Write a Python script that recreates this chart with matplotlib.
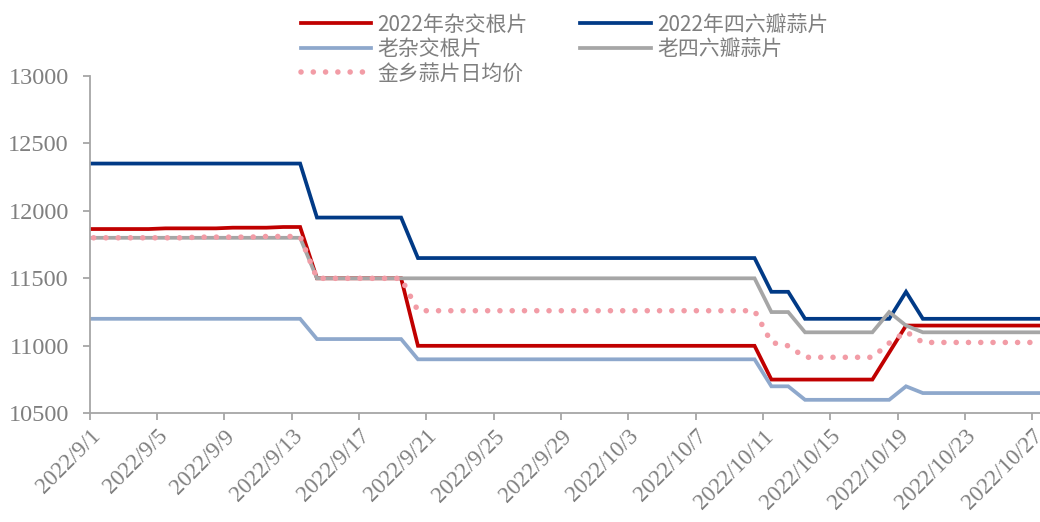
import matplotlib
matplotlib.use('Agg')
import matplotlib.pyplot as plt
import matplotlib.dates as mdates
import pandas as pd

# daily prices, 2022/8/31 .. 2022/10/28 (ends are clipped by the axis like the original)
dates = pd.date_range('2022-08-31', '2022-10-28', freq='D')

hybrid_2022 = [11865,
               11865, 11865, 11865, 11865, 11870, 11870, 11870, 11870, 11875, 11875, 11875, 11880, 11880,
               11500, 11500, 11500, 11500, 11500, 11500,
               11000, 11000, 11000, 11000, 11000, 11000, 11000, 11000, 11000, 11000, 11000,
               11000, 11000, 11000, 11000, 11000, 11000, 11000, 11000, 11000, 11000,
               10750, 10750, 10750, 10750, 10750, 10750, 10750, 10950,
               11150, 11150, 11150, 11150, 11150, 11150, 11150, 11150, 11150, 11150]
six_clove_2022 = [12350,
                  12350, 12350, 12350, 12350, 12350, 12350, 12350, 12350, 12350, 12350, 12350, 12350, 12350,
                  11950, 11950, 11950, 11950, 11950, 11950,
                  11650, 11650, 11650, 11650, 11650, 11650, 11650, 11650, 11650, 11650, 11650,
                  11650, 11650, 11650, 11650, 11650, 11650, 11650, 11650, 11650, 11650,
                  11400, 11400, 11200, 11200, 11200, 11200, 11200, 11200,
                  11400, 11200, 11200, 11200, 11200, 11200, 11200, 11200, 11200, 11200]
hybrid_old = [11200,
              11200, 11200, 11200, 11200, 11200, 11200, 11200, 11200, 11200, 11200, 11200, 11200, 11200,
              11050, 11050, 11050, 11050, 11050, 11050,
              10900, 10900, 10900, 10900, 10900, 10900, 10900, 10900, 10900, 10900, 10900,
              10900, 10900, 10900, 10900, 10900, 10900, 10900, 10900, 10900, 10900,
              10700, 10700, 10600, 10600, 10600, 10600, 10600, 10600,
              10700, 10650, 10650, 10650, 10650, 10650, 10650, 10650, 10650, 10650]
six_clove_old = [11800,
                 11800, 11800, 11800, 11800, 11800, 11800, 11800, 11800, 11800, 11800, 11800, 11800, 11800,
                 11500, 11500, 11500, 11500, 11500, 11500,
                 11500, 11500, 11500, 11500, 11500, 11500, 11500, 11500, 11500, 11500, 11500,
                 11500, 11500, 11500, 11500, 11500, 11500, 11500, 11500, 11500, 11500,
                 11250, 11250, 11100, 11100, 11100, 11100, 11100, 11250,
                 11150, 11100, 11100, 11100, 11100, 11100, 11100, 11100, 11100, 11100]
jinxiang_avg = [11800,
                11800, 11800, 11800, 11800, 11800, 11800, 11805, 11805, 11805, 11805, 11810, 11810, 11810,
                11500, 11500, 11500, 11500, 11500, 11500,
                11260, 11260, 11260, 11260, 11260, 11260, 11260, 11260, 11260, 11260, 11260,
                11260, 11260, 11260, 11260, 11260, 11260, 11260, 11260, 11260, 11260,
                11025, 11000, 10915, 10915, 10915, 10915, 10915, 11020,
                11105, 11025, 11025, 11025, 11025, 11025, 11025, 11025, 11025, 11025]

labels = ['2022年杂交根片', '2022年四六瓣蒜片', '老杂交根片', '老四六瓣蒜片', '金乡蒜片日均价']
colors = ['#C00000', '#013A86', '#8EA8CC', '#A6A6A6', '#F29CA6']

tick_dates = pd.date_range('2022-09-01', '2022-10-27', freq='4D')
tick_labels = [f'{d.year}/{d.month}/{d.day}' for d in tick_dates]

grey = '#7F7F7F'
axis_grey = '#A6A6A6'

fig = plt.figure(figsize=(10.4, 5.22), dpi=100)
ax = fig.add_axes([0.0863, 0.2082, 0.9137, 0.6466])

# excel date axis puts each day in the middle of its slot
x = dates + pd.Timedelta(hours=12)
series = [hybrid_2022, six_clove_2022, hybrid_old, six_clove_old, jinxiang_avg]
handles = []
for i, (vals, lab, col) in enumerate(zip(series, labels, colors)):
    if i == 4:
        h, = ax.plot(x, vals, color=col, lw=4.0, linestyle=(0, (0.01, 2.2)),
                     dash_capstyle='round', label=lab)
    else:
        h, = ax.plot(x, vals, color=col, lw=2.7, solid_joinstyle='miter', label=lab)
    handles.append(h)

x0 = mdates.date2num(pd.Timestamp('2022-09-01'))
ax.set_xlim(x0, x0 + 56.46)
ax.set_ylim(10500, 13000)
ax.set_yticks([10500, 11000, 11500, 12000, 12500, 13000])
ax.set_xticks(mdates.date2num(tick_dates))
ax.set_xticklabels(tick_labels, rotation=45, ha='right', rotation_mode='anchor')

for s in ['top', 'right']:
    ax.spines[s].set_visible(False)
for s in ['left', 'bottom']:
    ax.spines[s].set_color(axis_grey)
    ax.spines[s].set_linewidth(1.3)
ax.tick_params(axis='both', colors=axis_grey, width=1.3, length=5, direction='out')
for t in ax.get_xticklabels():
    t.set_color(grey)
    t.set_fontfamily('Liberation Serif')
    t.set_fontsize(16.5)
for t in ax.get_yticklabels():
    t.set_color(grey)
    t.set_fontfamily('Liberation Serif')
    t.set_fontsize(17.5)
ax.tick_params(axis='y', pad=10)
ax.tick_params(axis='x', pad=4)

order = [0, 2, 4, 1, 3]
fig.legend([handles[i] for i in order], [labels[i] for i in order],
           loc='upper left', bbox_to_anchor=(0.284, 0.984), ncol=2, frameon=False,
           prop={'family': ['Noto Sans CJK SC', 'DejaVu Sans'], 'size': 15},
           labelcolor=grey, handlelength=3.4, handletextpad=0.3,
           columnspacing=2.5, labelspacing=0.12, borderpad=0.25, borderaxespad=0)

fig.savefig('out.png', dpi=100)
